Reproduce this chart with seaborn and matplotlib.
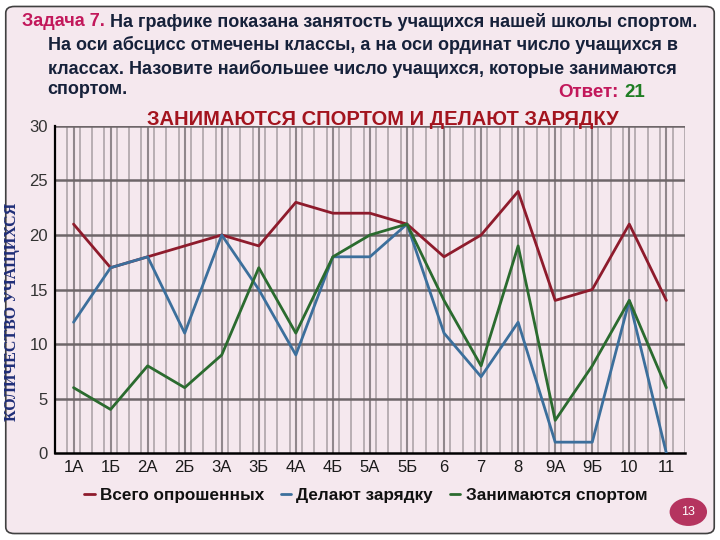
import matplotlib
matplotlib.use("Agg")
import matplotlib.pyplot as plt
from matplotlib.patches import FancyBboxPatch, Circle
import numpy as np
import pandas as pd
import seaborn as sns

classes = ["1А", "1Б", "2А", "2Б", "3А", "3Б", "4А", "4Б", "5А", "5Б",
           "6", "7", "8", "9А", "9Б", "10", "11"]
total = [21, 17, 18, 19, 20, 19, 23, 22, 22, 21, 18, 20, 24, 14, 15, 21, 14]
exercise = [12, 17, 18, 11, 20, 15, 9, 18, 18, 21, 11, 7, 12, 1, 1, 14, 0]
sport = [6, 4, 8, 6, 9, 17, 11, 18, 20, 21, 14, 8, 19, 3, 8, 14, 6]
series_names = ["Всего опрошенных", "Делают зарядку", "Занимаются спортом"]
y_ticks = [0, 5, 10, 15, 20, 25, 30]

colors = ["#8E1B2C", "#3C6F9C", "#2B6B2F"]

rows = []
for name, vals in zip(series_names, [total, exercise, sport]):
    for i, v in enumerate(vals):
        rows.append({"pos": i, "value": v, "series": name})
df = pd.DataFrame(rows)

sns.set_theme(style="white")
plt.rcParams["font.family"] = ["Liberation Sans Narrow", "Liberation Sans", "DejaVu Sans"]

bg = "#F5E8EE"
fig = plt.figure(figsize=(7.2, 5.4), dpi=100, facecolor="white")

# slide frame
frame = FancyBboxPatch((0.008, 0.012), 0.984, 0.976, boxstyle="round,pad=0,rounding_size=0.012",
                       transform=fig.transFigure, facecolor=bg, edgecolor="#404040", lw=1.2,
                       zorder=-5)
fig.patches.append(frame)

ax = fig.add_axes([0.0764, 0.161, 0.8748, 0.6057])
ax.set_zorder(2)
ax.set_facecolor(bg)

n = len(classes)
# vertical grid lines (dense)
for k in range(0, 3 * n + 1):
    xv = -0.5 + k / 3.0
    ax.axvline(xv, color="#A89EA3", lw=1.1, zorder=0.5)
for i in range(n):
    ax.axvline(i, color="#90878C", lw=1.5, zorder=0.5)
for yv in y_ticks[1:]:
    ax.axhline(yv, color="#6E6669", lw=1.8, zorder=0.6)

sns.lineplot(data=df, x="pos", y="value", hue="series", palette=colors, ax=ax,
             lw=2.0, legend=False, zorder=3)

ax.set_xlim(-0.5, n - 0.5)
ax.set_ylim(0, 30)
ax.set_xticks(range(n))
ax.set_xticklabels(classes, fontsize=12, color="#1A1A1A")
ax.set_xticks(np.arange(-0.5, n, 1.0), minor=True)
ax.tick_params(axis="x", which="major", length=0, pad=5)
ax.tick_params(axis="x", which="minor", length=5, width=1.5, direction="out", color="black")
ax.set_yticks(y_ticks)
ax.set_yticklabels([str(v) for v in y_ticks], fontsize=12, color="#333333")
ax.tick_params(axis="y", length=6, width=1.2, direction="inout", color="black", pad=2)
ax.set_xlabel("")
ax.set_ylabel("")
for s in ["top", "right"]:
    ax.spines[s].set_visible(False)
ax.spines["left"].set_color("black")
ax.spines["left"].set_linewidth(1.6)
ax.spines["bottom"].set_color("black")
ax.spines["bottom"].set_linewidth(1.8)

# y label
fig.text(0.017, 0.422, "КОЛИЧЕСТВО УЧАЩИХСЯ", rotation=90, ha="center", va="center",
         fontsize=11.5, fontweight="bold", color="#1F2E78",
         family=["Liberation Serif", "DejaVu Serif"])

# chart title
fig.text(0.531, 0.778, "ЗАНИМАЮТСЯ СПОРТОМ И ДЕЛАЮТ ЗАРЯДКУ", ha="center", va="center",
         fontsize=14.5, fontweight="bold", color="#A3141E",
         family=["Liberation Sans", "DejaVu Sans"])

# task text
tfs = 13
navy = "#16213A"
t1 = fig.text(0.031, 0.960, "Задача 7.", ha="left", va="center", fontsize=tfs,
              fontweight="bold", color="#C2185B")
fig.canvas.draw()
bb = t1.get_window_extent()
x1 = (bb.x1 + 5) / fig.bbox.width
fig.text(x1, 0.960, "На графике показана занятость учащихся нашей школы спортом.",
         ha="left", va="center", fontsize=tfs, fontweight="bold", color=navy)
fig.text(0.066, 0.916, "На оси абсцисс отмечены классы, а на оси ординат число учащихся в",
         ha="left", va="center", fontsize=tfs, fontweight="bold", color=navy)
fig.text(0.066, 0.873, "классах. Назовите наибольшее число учащихся, которые занимаются",
         ha="left", va="center", fontsize=tfs, fontweight="bold", color=navy)
fig.text(0.066, 0.834, "спортом.", ha="left", va="center", fontsize=tfs,
         fontweight="bold", color=navy)
a1 = fig.text(0.776, 0.828, "Ответ:", ha="left", va="center", fontsize=13.5,
              fontweight="bold", color="#C2185B")
fig.canvas.draw()
bb = a1.get_window_extent()
fig.text((bb.x1 + 5) / fig.bbox.width, 0.828, "21", ha="left", va="center",
         fontsize=13.5, fontweight="bold", color="#1E7D22")

# legend
handles = [plt.Line2D([], [], color=c, lw=2) for c in colors]
leg = fig.legend(handles, series_names, loc="center", bbox_to_anchor=(0.508, 0.083),
                 ncol=3, frameon=False, handlelength=0.6, handletextpad=0.3,
                 columnspacing=1.0, prop={"weight": "bold", "size": 12.3,
                                          "family": ["Liberation Sans", "DejaVu Sans"]})
for t in leg.get_texts():
    t.set_color("#111111")

# page number badge
circ = Circle((0.956, 0.052), 0.026, transform=fig.transFigure, facecolor="#B5345F",
              edgecolor="none")
fig.patches.append(circ)
fig.text(0.956, 0.052, "13", ha="center", va="center", fontsize=9, color="white")

fig.savefig("out.png", dpi=100, facecolor="white")
